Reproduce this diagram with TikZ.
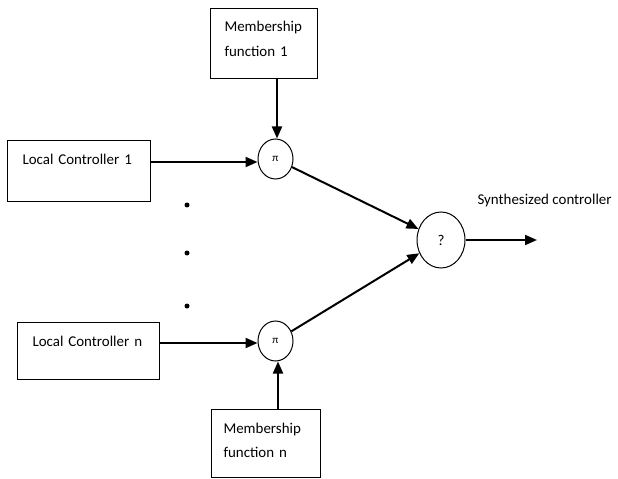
\documentclass[tikz,border=0pt]{standalone}
\usepackage{fontspec}
\setmainfont{Carlito}
\usepackage{tikz}
\usetikzlibrary{arrows.meta,shapes.geometric}

\begin{document}
\begin{tikzpicture}[x=1bp, y=-1bp, line width=1bp,
    font=\fontsize{15}{25}\selectfont,
    blk/.style={draw, rectangle, inner sep=0pt},
    txt/.style={anchor=base west, align=left, text width=120bp, inner sep=0pt},
    mul/.style={draw, ellipse, minimum width=35bp, minimum height=40bp, inner sep=0pt},
    arr/.style={line width=2bp, -{Triangle[length=12bp,width=10bp]}}]
    \useasboundingbox (0,0) rectangle (618,479);

    % blocks
    \node[blk, minimum width=107bp, minimum height=70bp] (mf1) at (264,44) {};
    \node[blk, minimum width=142bp, minimum height=61bp] (lc1) at (79,171.5) {};
    \node[blk, minimum width=141bp, minimum height=57bp] (lcn) at (88.5,350.5) {};
    \node[blk, minimum width=109bp, minimum height=68bp] (mfn) at (265.5,443) {};

    \node[txt] (mf1t) at (224,32) {Membership\\function 1};
    \node[txt] (lc1t) at (22,165) {Local Controller 1};
    \node[txt] (lcnt) at (32,346) {Local Controller n};
    \node[txt] (mfnt) at (223,433) {Membership\\function n};

    % products and sum
    \node[mul] (p1) at (275.5,159) {\fontsize{11}{11}\selectfont π};
    \node[mul] (pn) at (275.5,341) {\fontsize{11}{11}\selectfont π};
    \node[draw, ellipse, minimum width=48bp, minimum height=56bp, inner sep=0pt] (sum) at (441,240) {?};
    \coordinate (out) at (537,240);
    \node[anchor=base west, inner sep=0pt] (outt) at (477,205) {Synthesized controller};

    % dots
    \foreach \yy in {205,253,306} \fill (187,\yy) circle (2.5);

    % connectors
    \draw[arr] (mf1.south -| 277,0) -- (p1.north -| 277,0);
    \draw[arr] (lc1.east |- 0,162) -- (p1.west |- 0,162);
    \draw[arr] (lcn.east |- 0,343) -- (pn.west |- 0,343);
    \draw[arr] (mfn.north -| 278,0) -- (pn.south -| 278,0);
    \draw[arr] (p1) -- (sum);
    \draw[arr] (pn) -- (sum);
    \draw[arr] (sum.east) -- (out);
\end{tikzpicture}
\end{document}
